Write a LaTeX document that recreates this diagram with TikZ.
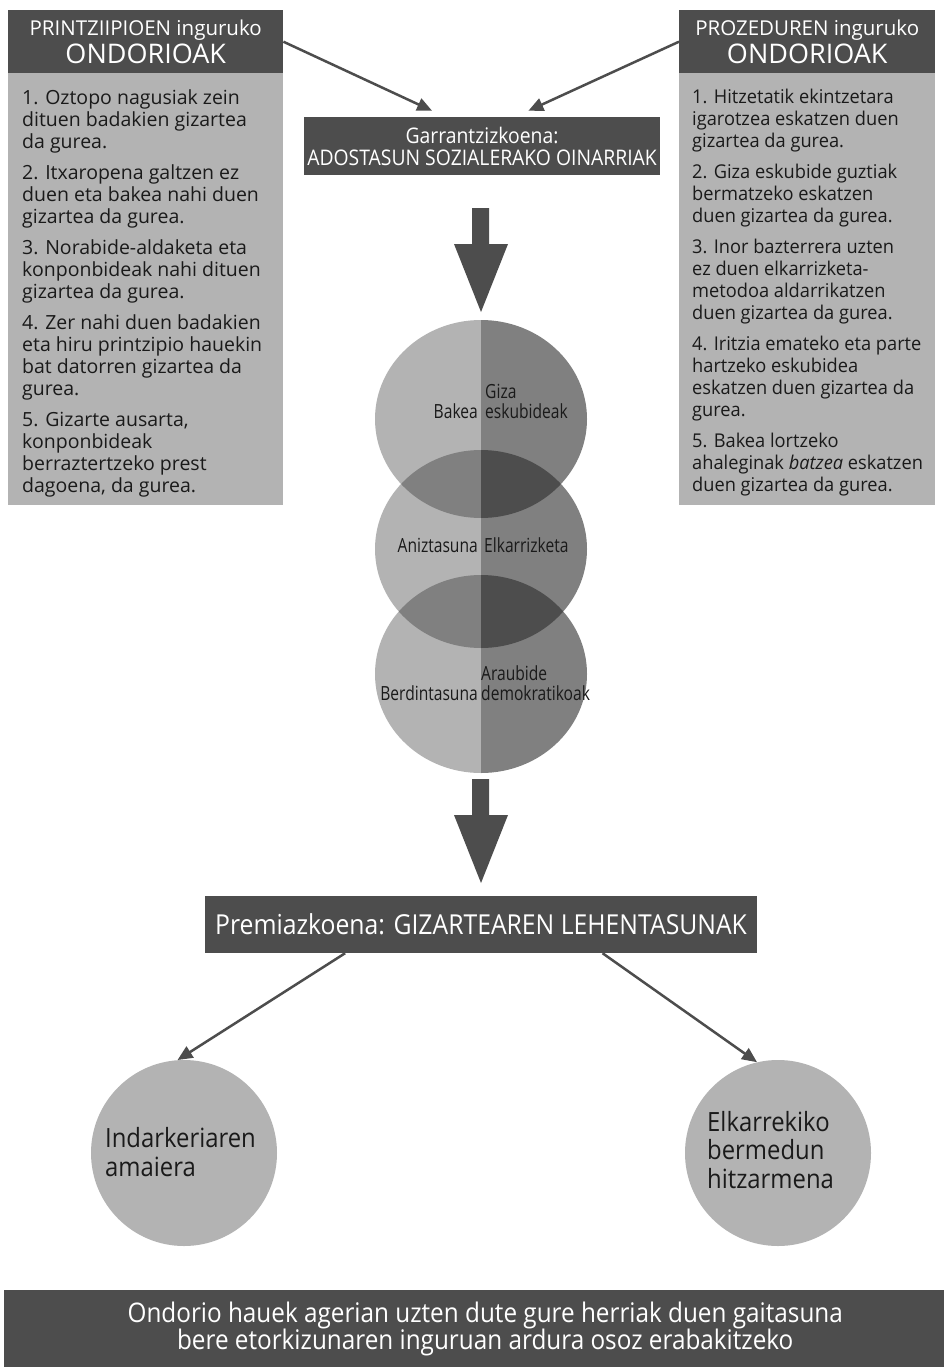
\documentclass[tikz,border=0pt]{standalone}
\usepackage{fontspec}
\setmainfont{Open Sans}
\newfontfamily\condf[FakeStretch=0.8]{Open Sans}
\newfontfamily\condg[FakeStretch=0.9]{Open Sans}
\newfontfamily\condr[FakeStretch=0.96]{Open Sans}
\usetikzlibrary{arrows.meta,calc}
\definecolor{dk}{HTML}{4D4D4D}
\definecolor{lg}{HTML}{B3B3B3}
\definecolor{md}{HTML}{808080}
\definecolor{tx}{HTML}{1A1A1A}
\begin{document}
\begin{tikzpicture}[x=1pt,y=-1pt,
  hdr/.style={fill=dk,text=white,inner sep=0pt,minimum width=275pt,minimum height=63pt,align=center,anchor=north west},
  body/.style={fill=lg,inner sep=0pt,minimum width=275pt,minimum height=432pt,anchor=north west},
  bodytext/.style={anchor=north west,inner sep=0pt,align=left,text=tx,font=\fontsize{19.5}{22}\selectfont},
  darkbox/.style={fill=dk,text=white,inner sep=0pt,align=center},
  conn/.style={draw=dk,line width=2.5pt,-{Triangle[length=15pt,width=13pt]}},
  blockarrow/.style={fill=dk},
  venntext/.style={inner sep=0pt,text=tx,font=\condf\fontsize{19.5}{20}\selectfont},
  endcircle/.style={circle,fill=lg,inner sep=0pt,minimum size=186pt},
  endtext/.style={anchor=west,inner sep=0pt,align=left,text=tx,font=\condg\fontsize{26.5}{28.5}\selectfont}]
\useasboundingbox (0,0) rectangle (943,1367);
\fill[white] (0,0) rectangle (943,1367);

% left column
\node[hdr] (lh) at (8,10) {\fontsize{20.5}{22}\selectfont PRINTZIIPIOEN inguruko\\[2pt]\fontsize{27}{28}\selectfont ONDORIOAK};
\node[body] (lb) at (8,73) {};
\node[bodytext] (lt) at (22,89) {1. Oztopo nagusiak zein\\dituen badakien gizartea\\da gurea.\\[9pt]
2. Itxaropena galtzen ez\\duen eta bakea nahi duen\\gizartea da gurea.\\[9pt]
3. Norabide-aldaketa eta\\konponbideak nahi dituen\\gizartea da gurea.\\[9pt]
4. Zer nahi duen badakien\\eta hiru printzipio hauekin\\bat datorren gizartea da\\gurea.\\[9pt]
5. Gizarte ausarta,\\konponbideak\\berraztertzeko prest\\dagoena, da gurea.};

% right column
\node[hdr,minimum width=256pt] (rh) at (679,10) {\fontsize{20.5}{22}\selectfont PROZEDUREN inguruko\\[2pt]\fontsize{27}{28}\selectfont ONDORIOAK};
\node[body,minimum width=256pt] (rb) at (679,73) {};
\node[bodytext,font=\condr\fontsize{19}{22}\selectfont] (rt) at (692,89) {1. Hitzetatik ekintzetara\\igarotzea eskatzen duen\\gizartea da gurea.\\[9pt]
2. Giza eskubide guztiak\\bermatzeko eskatzen\\duen gizartea da gurea.\\[9pt]
3. Inor bazterrera uzten\\ez duen elkarrizketa-\\metodoa aldarrikatzen\\duen gizartea da gurea.\\[9pt]
4. Iritzia emateko eta parte\\hartzeko eskubidea\\eskatzen duen gizartea da\\gurea.\\[9pt]
5. Bakea lortzeko\\ahaleginak \textit{batzea} eskatzen\\duen gizartea da gurea.};

% centre top box
\node[darkbox,minimum width=356pt,minimum height=58pt,font=\condg\fontsize{21.5}{22}\selectfont] (gar) at (482,146) {Garrantzizkoena:\\ADOSTASUN SOZIALERAKO OINARRIAK};
\draw[conn] (lh.east) -- ($(gar.north west)!0.36!(gar.north east)+(0,-6)$);
\draw[conn] (rh.west) -- ($(gar.north west)!0.63!(gar.north east)+(0,-6)$);

% block arrow 1
\fill[blockarrow] (472,208) -- (489,208) -- (489,244) -- (508,244) -- (481,312) -- (454,244) -- (472,244) -- cycle;

% stack of overlapping ellipses
\begin{scope}
  \clip (0,0) rectangle (481,1000);
  \fill[lg] (481,419) ellipse [x radius=106pt,y radius=99pt];
  \fill[lg] (481,549) ellipse [x radius=106pt,y radius=99pt];
  \fill[lg] (481,674) ellipse [x radius=106pt,y radius=99pt];
\end{scope}
\begin{scope}
  \clip (481,0) rectangle (943,1000);
  \fill[md] (481,419) ellipse [x radius=106pt,y radius=99pt];
  \fill[md] (481,549) ellipse [x radius=106pt,y radius=99pt];
  \fill[md] (481,674) ellipse [x radius=106pt,y radius=99pt];
\end{scope}
\begin{scope}
  \clip (481,419) ellipse [x radius=106pt,y radius=99pt];
  \clip (481,549) ellipse [x radius=106pt,y radius=99pt];
  \fill[md] (360,300) rectangle (481,800);
  \fill[dk] (481,300) rectangle (600,800);
\end{scope}
\begin{scope}
  \clip (481,549) ellipse [x radius=106pt,y radius=99pt];
  \clip (481,674) ellipse [x radius=106pt,y radius=99pt];
  \fill[md] (360,300) rectangle (481,800);
  \fill[dk] (481,300) rectangle (600,800);
\end{scope}
\node[venntext,anchor=east] (bakea) at (478,411) {Bakea};
\node[venntext,anchor=west,align=left] (giza) at (485,401) {Giza\\eskubideak};
\node[venntext,anchor=east] (aniz) at (478,545) {Aniztasuna};
\node[venntext,anchor=west] (elk) at (484,545) {Elkarrizketa};
\node[venntext,anchor=east] (berd) at (478,693) {Berdintasuna};
\node[venntext,anchor=west,align=left] (arau) at (481,683) {Araubide\\demokratikoak};

% block arrow 2
\fill[blockarrow] (472,779) -- (489,779) -- (489,815) -- (508,815) -- (481,883) -- (454,815) -- (472,815) -- cycle;

% priorities box
\node[darkbox,minimum width=552pt,minimum height=57pt,font=\condg\fontsize{27.5}{28}\selectfont] (prem) at (481,924.5) {Premiazkoena: GIZARTEAREN LEHENTASUNAK};

% end circles
\node[endcircle] (lc) at (184,1153) {};
\node[endcircle] (rc) at (778,1153) {};
\node[endtext] (lct) at (105,1152) {Indarkeriaren\\amaiera};
\node[endtext] (rct) at (707,1150) {Elkarrekiko\\bermedun\\hitzarmena};
\draw[conn] ($(prem.south west)!0.254!(prem.south east)$) -- (lc.94);
\draw[conn] ($(prem.south west)!0.72!(prem.south east)$) -- (rc.103);

% bottom band (runs past the right edge, as in the reference)
\node[darkbox,anchor=north west,minimum width=962pt,minimum height=77pt,font=\condg\fontsize{27}{27}\selectfont] (band) at (4,1290) {Ondorio hauek agerian uzten dute gure herriak duen gaitasuna\\bere etorkizunaren inguruan ardura osoz erabakitzeko};
\end{tikzpicture}
\end{document}
